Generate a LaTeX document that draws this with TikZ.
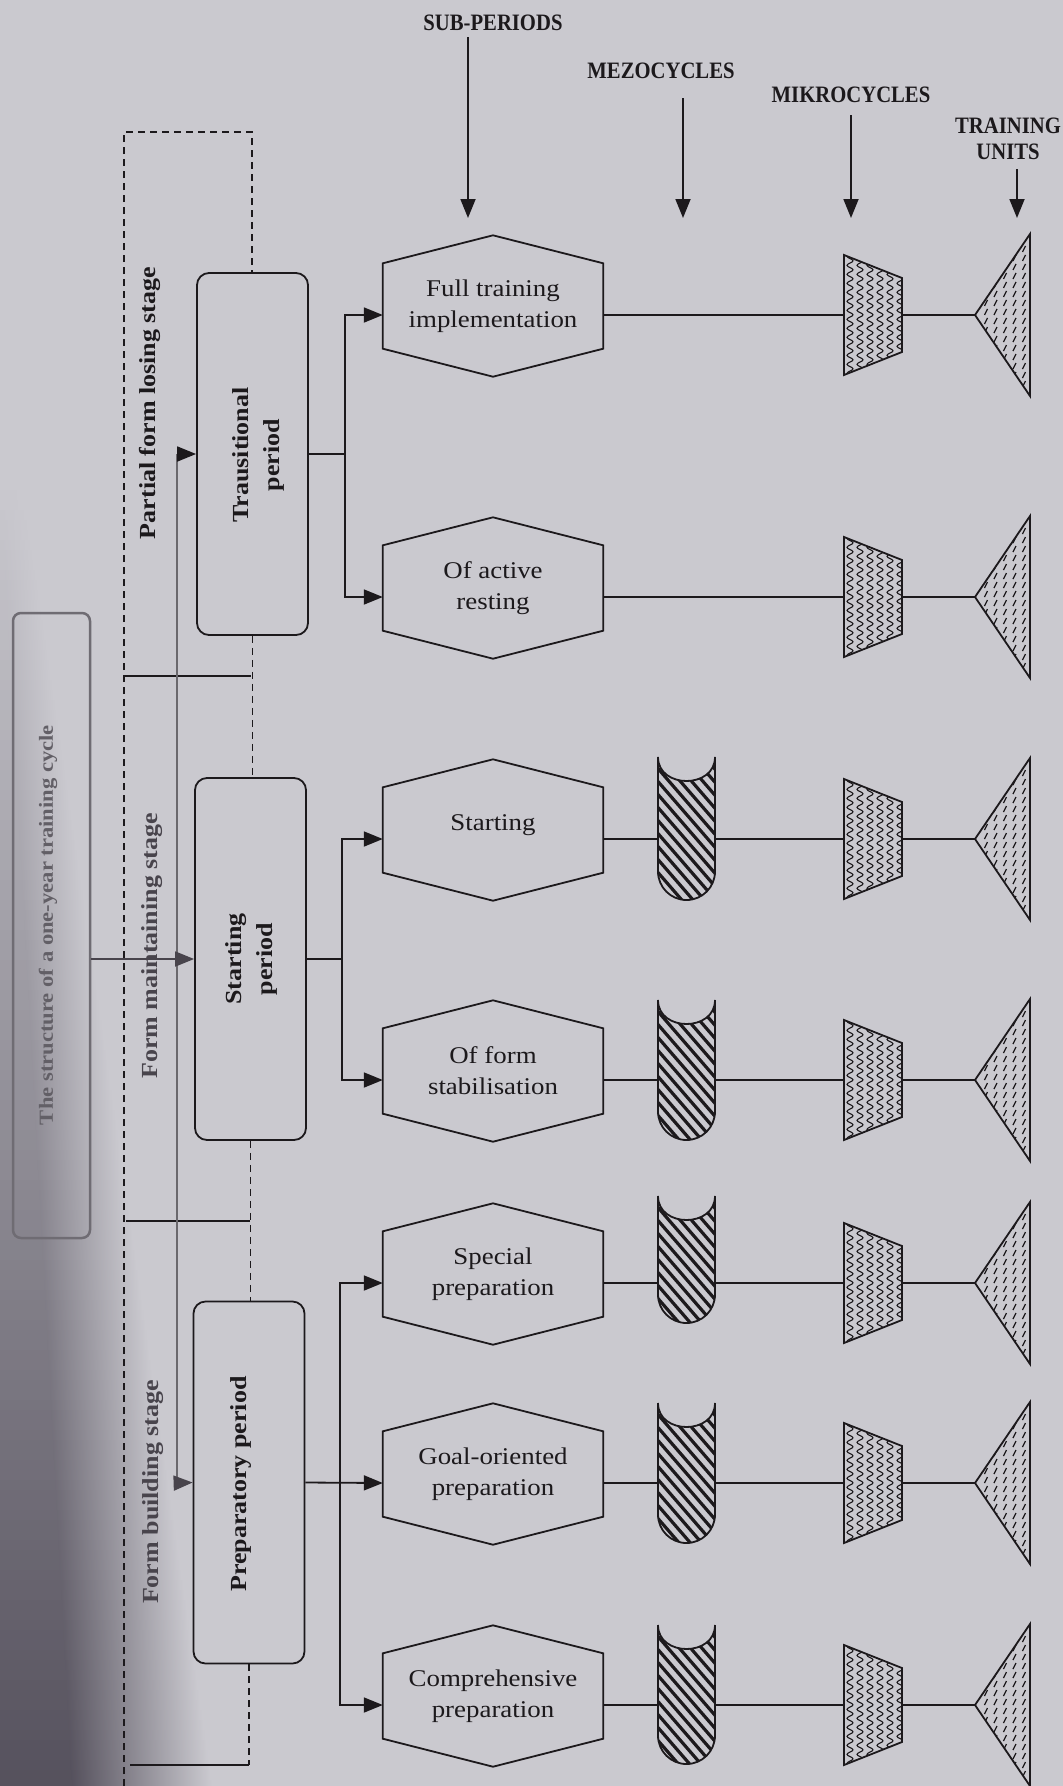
\documentclass[tikz,border=0pt]{standalone}
\usepackage{fontspec}
\setmainfont{Liberation Serif}
\newfontfamily\hexfont{Liberation Serif}[FakeStretch=1.12]
\newfontfamily\lblfont{Liberation Serif Bold}[FakeStretch=1.13]
\newfontfamily\hdrfont{Liberation Serif Bold}[FakeStretch=0.88]
\usetikzlibrary{arrows.meta,decorations.pathmorphing,calc}
\definecolor{bgc}{RGB}{202,201,207}
\definecolor{shadowc}{RGB}{62,57,70}
\definecolor{ink}{RGB}{28,25,28}
\definecolor{blurink}{RGB}{72,68,76}

% hexagon row: name, line y, text
\newcommand{\hexrow}[3]{%
  \coordinate (r#1) at (0,#2);
  \node[hexnode] (h#1) at (493,#2-9) {#3};
  \draw[shapeline] (h#1.north west) -- ([yshift=28pt]h#1.north) -- (h#1.north east)
     -- (h#1.south east) -- ([yshift=-28pt]h#1.south) -- (h#1.south west) -- cycle;
}
% mezocycle: name, top, bottom
\newcommand{\mezo}[3]{%
  \node[inner sep=0pt, minimum width=57pt, minimum height=10pt] (m#1) at (686.5,{(#2+#3)/2}) {};
  \begin{scope}
    \clip (658,#2) -- (658,#3-28.5) arc[start angle=180,end angle=0,radius=28.5]
       -- (715,#2) .. controls (715,#2+32) and (658,#2+32) .. (658,#2) -- cycle;
    \foreach \k in {-8,...,12} \draw[line width=3.2pt, ink] (648,#2+\k*13) -- ++(85,98);
  \end{scope}
  \draw[shapeline] (658,#2) -- (658,#3-28.5) arc[start angle=180,end angle=0,radius=28.5]
       -- (715,#2) .. controls (715,#2+32) and (658,#2+32) .. (658,#2) -- cycle;
}
% microcycle trapezoid: name, centre y
\newcommand{\mikro}[2]{%
  \node[inner sep=0pt, minimum width=58pt, minimum height=120pt] (k#1) at (873,#2) {};
  \begin{scope}
    \clip (844,#2-60) -- (902,#2-37) -- (902,#2+37) -- (844,#2+60) -- cycle;
    \foreach \x in {850,860,...,900}
      \draw[line width=1.1pt, ink, decorate, decoration={snake,segment length=9pt,amplitude=3pt}]
        (\x,#2-66) -- (\x,#2+66);
  \end{scope}
  \draw[shapeline] (844,#2-60) -- (902,#2-37) -- (902,#2+37) -- (844,#2+60) -- cycle;
}
% training unit triangle: name, centre y
\newcommand{\trunit}[2]{%
  \node[inner sep=0pt, minimum width=55pt, minimum height=162pt] (t#1) at (1002.5,#2) {};
  \begin{scope}
    \clip (975,#2) -- (1030,#2-81) -- (1030,#2+81) -- cycle;
    \foreach \x in {986,995.5,...,1028}
      \foreach \y in {-84,-75,...,84}
        \draw[line width=1.3pt, ink] (\x-1.5,#2+\y+3) -- (\x+1.5,#2+\y-3);
  \end{scope}
  \draw[shapeline] (975,#2) -- (1030,#2-81) -- (1030,#2+81) -- cycle;
}

\begin{document}
\begin{tikzpicture}[x=1pt,y=-1pt,
  conn/.style={line width=1.8pt, draw=ink},
  arr/.style={conn, -{Triangle[length=19pt,width=15pt]}},
  shapeline/.style={line width=1.8pt, draw=ink, line join=miter},
  dashline/.style={line width=1.8pt, draw=ink, dash pattern=on 7pt off 5pt},
  hexnode/.style={inner sep=0pt, minimum width=220pt, minimum height=85pt, align=center,
     text=ink, font=\hexfont\fontsize{24}{31}\selectfont},
  periodbox/.style={draw=ink, line width=1.8pt, rounded corners=12pt, minimum width=111pt,
     minimum height=362pt, inner sep=0pt},
  lbl/.style={rotate=90, align=center, text=ink, inner sep=0pt, font=\lblfont\fontsize{23}{31}\selectfont},
  hdr/.style={align=center, text=ink, inner sep=0pt, font=\hdrfont\fontsize{23.5}{26}\selectfont},
]
\useasboundingbox (0,0) rectangle (1063,1786);
\fill[bgc] (0,0) rectangle (1063,1786);
% page curvature shadow
\foreach \i [evaluate=\i as \yy using 470+\i*10,
             evaluate=\i as \cc using \i*0.55,
             evaluate=\i as \ww using \i*1.45+22,
             evaluate=\i as \pp using int(\i*0.64)] in {0,...,132}{
  \fill[shadowc!\pp!bgc] (0,\yy) rectangle (\cc,\yy+10.5);
  \shade[left color=shadowc!\pp!bgc, right color=bgc] (\cc,\yy) rectangle (\ww,\yy+10.5);
}

% headers
\node[hdr] (hsub) at (493,23) {SUB-PERIODS};
\node[hdr] (hmez) at (661,71) {MEZOCYCLES};
\node[hdr] (hmik) at (851,95) {MIKROCYCLES};
\node[hdr] (hunit) at (1008,139) {TRAINING\\UNITS};
\coordinate (asub) at (468,218);
\coordinate (amez) at (683,218);
\coordinate (amik) at (851,218);
\coordinate (aunit) at (1017,218);
\draw[arr] ($(hsub.south -| asub)+(0,6)$) -- (asub);
\draw[arr] ($(hmez.south -| amez)+(0,19)$) -- (amez);
\draw[arr] ($(hmik.south -| amik)+(0,12)$) -- (amik);
\draw[arr] ($(hunit.south -| aunit)+(0,9)$) -- (aunit);

% hexagon rows
\hexrow{1}{315}{Full training\\implementation}
\hexrow{2}{597}{Of active\\resting}
\hexrow{3}{839}{\raisebox{14pt}{Starting}}
\hexrow{4}{1080}{Of form\\stabilisation}
\hexrow{5}{1283}{Special\\preparation}
\hexrow{6}{1483}{Goal-oriented\\preparation}
\hexrow{7}{1705}{Comprehensive\\preparation}

% mezocycles
\mezo{3}{757}{900}
\mezo{4}{1000}{1140}
\mezo{5}{1196}{1323}
\mezo{6}{1403}{1543}
\mezo{7}{1625}{1764}

% microcycles and training units
\foreach \n/\yy in {1/315,2/597,3/839,4/1080,5/1283,6/1483,7/1705}{
  \mikro{\n}{\yy}
  \trunit{\n}{\yy}
}

% row connectors
\draw[conn] (h1.east |- r1) -- (k1.west |- r1);
\draw[conn] (h2.east |- r2) -- (k2.west |- r2);
\foreach \n in {3,...,7}{
  \draw[conn] (h\n.east |- r\n) -- (m\n.west |- r\n);
  \draw[conn] (m\n.east |- r\n) -- (k\n.west |- r\n);
}
\foreach \n in {1,...,7}
  \draw[conn] (k\n.east |- r\n) -- (t\n.west |- r\n);

% period boxes
\node[periodbox] (tp) at (252.5,454) {};
\node[periodbox] (sp) at (250.5,959) {};
\node[periodbox] (pp) at (249,1482.5) {};
\node[lbl] (tpt) at (258,455) {Trausitional\\period};
\node[lbl] (spt) at (251,959) {Starting\\period};
\node[lbl] (ppt) at (241,1484) {Preparatory period};

% branches to hexagons
\coordinate (bt) at (345,454);
\coordinate (bs) at (342,959);
\coordinate (bp) at (340,1483);
\draw[conn] (tp.east) -- (bt);
\draw[arr] (bt) |- (h1.west |- r1);
\draw[arr] (bt) |- (h2.west |- r2);
\draw[conn] (sp.east) -- (bs);
\draw[arr] (bs) |- (h3.west |- r3);
\draw[arr] (bs) |- (h4.west |- r4);
\draw[arr] (pp.east) -- (h6.west |- r6);
\draw[arr] (bp) |- (h5.west |- r5);
\draw[arr] (bp) |- (h7.west |- r7);

% stages: dashed frame and boundaries
\coordinate (dtl) at (124,132);
\coordinate (dtr) at (252,132);
\coordinate (dbot) at (124,1786);
\draw[dashline] (dbot) -- (dtl) -- (dtr) -- (dtr |- tp.north);
\draw[dashline] (tp.south) -- (tp.south |- sp.north);
\draw[dashline] (sp.south) -- (sp.south |- pp.north);
\coordinate (b1l) at (124,676);  \coordinate (b1r) at (251,676);
\coordinate (b2l) at (126,1221); \coordinate (b2r) at (250,1221);
\coordinate (b3l) at (130,1765); \coordinate (b3r) at (249,1765);
\draw[dashline] (pp.south) -- (pp.south |- b3r);
\draw[conn] (b1l) -- (b1r);
\draw[conn] (b2l) -- (b2r);
\draw[conn] (b3l) -- (b3r);
\node[lbl] (st1) at (150,403) {Partial form losing stage};
\node[lbl, text=blurink] (st2) at (152,946) {Form maintaining stage};
\node[lbl, text=blurink] (st3) at (153,1492) {Form building stage};

% macrocycle box and its connectors
\node[draw=blurink!70!bgc, line width=2.5pt, rounded corners=8pt, minimum width=77pt,
      minimum height=625pt, inner sep=0pt] (macro) at (51.5,925.5) {};
\node[lbl, text=blurink!80!bgc, font=\lblfont\fontsize{20}{24}\selectfont] (mct) at (48,925)
  {The structure of a one-year training cycle};
\coordinate (jt) at (177,454);
\coordinate (jp) at (177,1483);
\draw[conn, draw=ink!55!bgc, line width=2.2pt] (jt) -- (jp);
\draw[arr] (jt) -- (tp.west);
\draw[arr, draw=blurink] (macro.east |- sp.west) -- (sp.west);
\draw[arr, draw=blurink] (jp) -- (pp.west);
\end{tikzpicture}
\end{document}
